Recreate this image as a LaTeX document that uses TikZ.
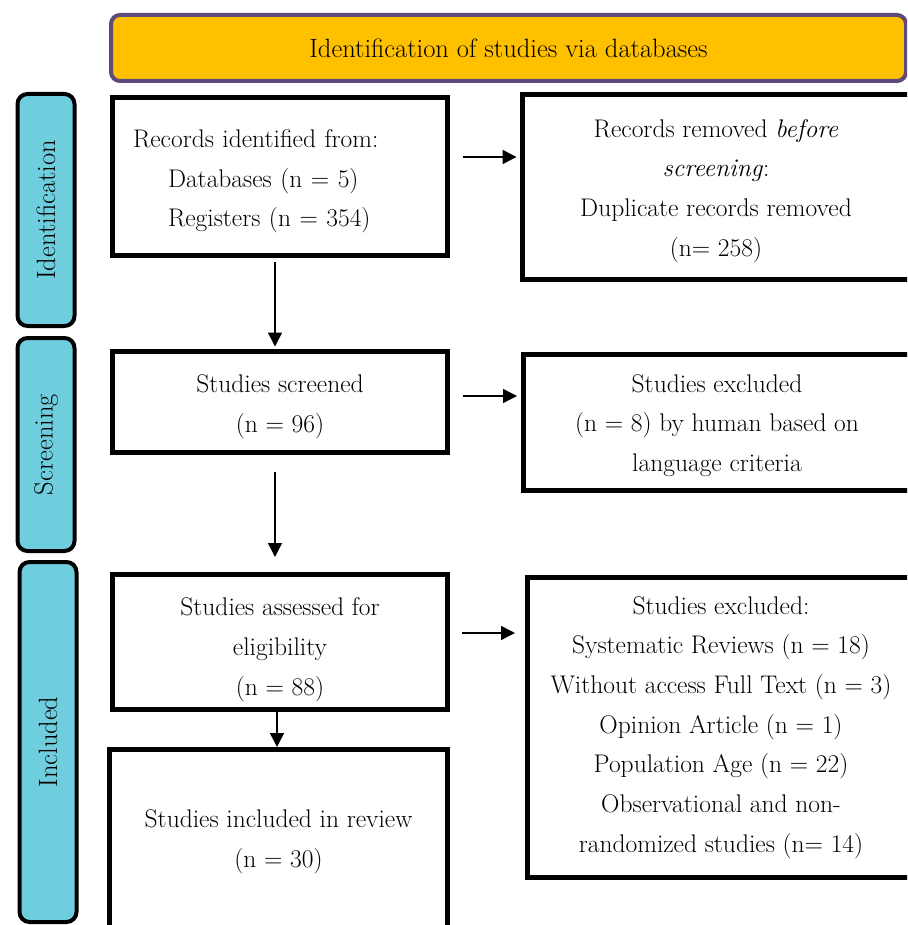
\documentclass[tikz,border=0pt]{standalone}
\definecolor{headgold}{RGB}{255, 192, 0}
\definecolor{headpurple}{RGB}{96, 74, 123}
\definecolor{phasecyan}{RGB}{111, 206, 222}
\usepackage{fontspec}
\usepackage{tikz}
\usetikzlibrary{arrows.meta, positioning, calc}

% strut that lowers the text of a box
\newcommand{\droptext}[1]{\rule{0pt}{#1}}

\tikzset{
  flowbox/.style={draw, line width=5pt, fill=white, align=center, inner sep=0pt},
  phasebox/.style={draw, line width=4pt, fill=phasecyan, rounded corners=10pt, rotate=90, inner sep=0pt, minimum height=57pt, font=\fontsize{26.5}{30}\selectfont},
  flowarrow/.style={-{Triangle[length=14pt, width=14pt]}, line width=1.5pt}
}

\begin{document}
\begin{tikzpicture}[x=1pt, y=-1pt, font=\fontsize{25.5}{39.7}\selectfont]
  \useasboundingbox (0, 0) rectangle (907, 925);
  \clip (0, 0) rectangle (907, 925);

  % Header
  \node[draw=headpurple, line width=4pt, fill=headgold, rounded corners=9pt, minimum width=795pt, minimum height=66pt, inner sep=0pt, font=\fontsize{26.5}{30}\selectfont] (head) at (508.5, 48) {Identification of studies via databases};

  % Phases
  \node[phasebox, minimum width=232pt] (ident) at (46, 210) {Identification};
  \node[phasebox, minimum width=213pt] (screen) at (46, 444.5) {Screening};
  \node[phasebox, minimum width=360pt] (incl) at (48, 742) {Included};

  % Identification
  \node[flowbox, align=left, minimum width=335pt, minimum height=158pt, inner xsep=20.5pt, text width=294pt] (records) at (280, 176.5) {
    \droptext{27.7pt}Records identified from:\\
    \hspace*{35pt}Databases (n = 5)\\
    \hspace*{35pt}Registers (n = 354)
  };
  \node[flowbox, minimum width=388pt, minimum height=185pt] (removed) at (716, 187) {
    \droptext{25.7pt}Records removed \textit{before}\\
    \textit{screening}:\\
    Duplicate records removed\\
    (n= 258)
  };

  % Screening
  \node[flowbox, minimum width=335pt, minimum height=101pt] (screened) at (280, 402) {
    \droptext{27.7pt}Studies screened\\
    (n = 96)
  };
  \node[flowbox, minimum width=388pt, minimum height=136pt] (excluded) at (717, 422.5) {
    \droptext{23.7pt}Studies excluded\\
    (n = 8) by human based on\\
    language criteria
  };

  % Included
  \node[flowbox, minimum width=335pt, minimum height=135pt] (assessed) at (280, 642) {
    \droptext{33.7pt}Studies assessed for\\
    eligibility\\
    (n = 88)
  };
  \node[flowbox, minimum width=388pt, minimum height=300pt] (reasons) at (721, 727.5) {
    Studies excluded:\\
    Systematic Reviews (n = 18)\\
    Without access Full Text (n = 3)\\
    Opinion Article (n = 1)\\
    Population Age (n = 22)\\
    Observational and non-\\
    randomized studies (n= 14)
  };
  \node[flowbox, minimum width=338pt, minimum height=185pt] (review) at (278.5, 842) {
    Studies included in review\\
    (n = 30)
  };

  % Arrows
  \draw[flowarrow, shorten <=13pt, shorten >=3pt] (records.east |- 0, 157) -- (removed.west |- 0, 157);
  \draw[flowarrow, shorten <=13pt, shorten >=3.5pt] (screened.east |- 0, 396) -- (excluded.west |- 0, 396);
  \draw[flowarrow, shorten <=12pt, shorten >=9.5pt] (assessed.east |- 0, 633) -- (reasons.west |- 0, 633);
  \draw[flowarrow, shorten <=4pt, shorten >=2.5pt] (records.south -| 275, 0) -- (screened.north -| 275, 0);
  \draw[flowarrow, shorten <=17pt, shorten >=15pt] (screened.south -| 275, 0) -- (assessed.north -| 275, 0);
  \draw[flowarrow] (assessed.south -| 277, 0) -- (review.north -| 277, 0);
\end{tikzpicture}
\end{document}
